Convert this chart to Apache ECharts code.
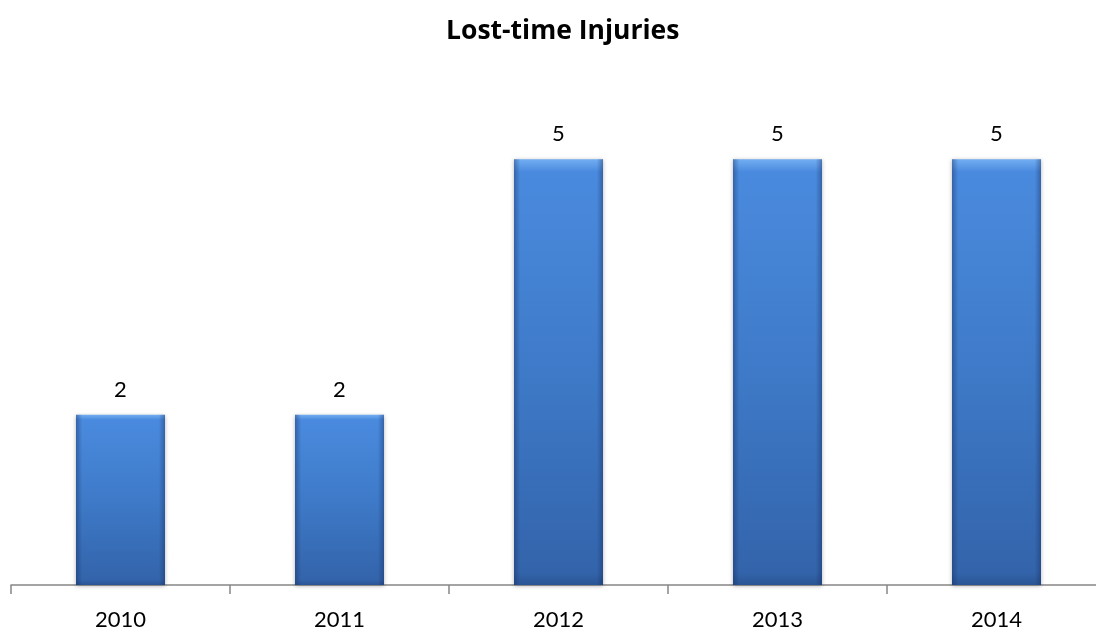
<!DOCTYPE html>
<html>
<head>
<meta charset="utf-8">
<script src="https://cdn.jsdelivr.net/npm/echarts@6/dist/echarts.min.js"></script>
<style>
  html, body { margin: 0; padding: 0; background: #fff; }
  #chart { width: 1096px; height: 633px; }
</style>
</head>
<body>
<div id="chart"></div>
<script>
const years = ['2010', '2011', '2012', '2013', '2014'];
const injuries = [2, 2, 5, 5, 5];

const chart = echarts.init(document.getElementById('chart'));
chart.setOption({
  animation: false,
  title: {
    text: 'Lost-time Injuries',
    left: 441,
    top: 13,
    textStyle: { fontFamily: 'Open Sans', fontWeight: 'bold', fontSize: 26.5, color: '#000' }
  },
  grid: { left: 11, right: -10, top: 74, bottom: 48, outerBoundsMode: 'none', containLabel: false },
  xAxis: {
    type: 'category',
    data: years,
    axisLine: { lineStyle: { color: '#868686', width: 1.5 } },
    axisTick: { show: true, length: 9, lineStyle: { color: '#868686', width: 1.5 } },
    axisLabel: { fontFamily: 'Lato', fontSize: 22, color: '#000', margin: 24 }
  },
  yAxis: {
    type: 'value',
    min: 0,
    max: 6,
    show: false,
    splitLine: { show: false }
  },
  series: [{
    type: 'bar',
    data: injuries,
    barWidth: 89,
    itemStyle: {
      color: new echarts.graphic.LinearGradient(0, 0, 0, 1, [
        { offset: 0, color: '#72aef2' },
        { offset: 0.03, color: '#4a8ade' },
        { offset: 0.5, color: '#3e7ac8' },
        { offset: 0.97, color: '#3364ab' },
        { offset: 1, color: '#2a5594' }
      ]),
      shadowColor: 'rgba(0,0,0,0.3)',
      shadowBlur: 4,
      shadowOffsetY: 1
    },
    label: {
      show: true,
      position: 'top',
      distance: 14,
      fontFamily: 'Lato',
      fontSize: 22,
      color: '#000'
    }
  }, {
    type: 'bar',
    data: injuries,
    barWidth: 89,
    barGap: '-100%',
    silent: true,
    itemStyle: {
      color: new echarts.graphic.LinearGradient(0, 0, 1, 0, [
        { offset: 0, color: 'rgba(20,40,90,0.4)' },
        { offset: 0.07, color: 'rgba(20,40,90,0)' },
        { offset: 0.93, color: 'rgba(20,40,90,0)' },
        { offset: 1, color: 'rgba(20,40,90,0.4)' }
      ])
    }
  }]
});
</script>
</body>
</html>
